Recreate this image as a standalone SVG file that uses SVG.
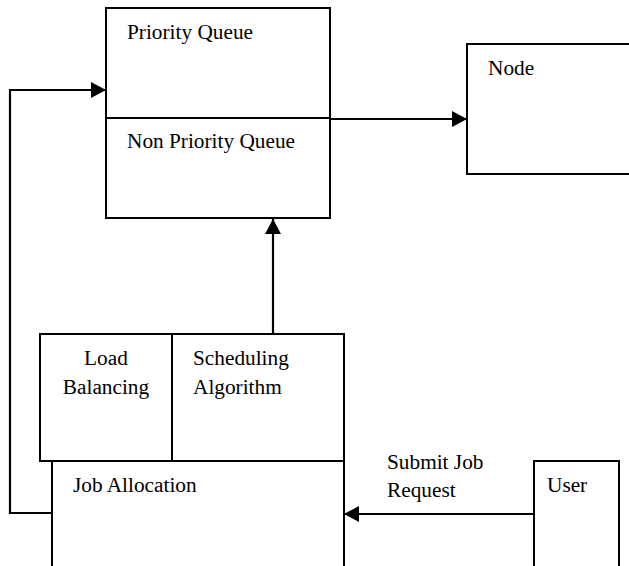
<svg xmlns="http://www.w3.org/2000/svg" width="629" height="566" viewBox="0 0 629 566">
<style>
.box{fill:#fff;stroke:#000;stroke-width:2}
.ln{fill:none;stroke:#000;stroke-width:2.2}
text{font-family:"Liberation Serif","Times New Roman",serif;font-size:21.3px;fill:#000}
</style>
<defs>
<marker id="ah" viewBox="0 0 15 16" refX="15" refY="8" markerWidth="15" markerHeight="16" markerUnits="userSpaceOnUse" orient="auto">
<path d="M0,0 L15,8 L0,16 Z" fill="#000"/>
</marker>
</defs>
<g id="queue">
<rect class="box" x="106" y="8" width="224" height="210"/>
<line x1="106" y1="118" x2="330" y2="118" stroke="#000" stroke-width="2"/>
<text x="127" y="39">Priority Queue</text>
<text x="127" y="148">Non Priority Queue</text>
</g>
<g id="node">
<rect class="box" x="467" y="44" width="170" height="130"/>
<text x="488" y="75">Node</text>
</g>
<g id="balancing">
<rect class="box" x="40" y="334" width="304" height="127"/>
<line x1="172" y1="334" x2="172" y2="461" stroke="#000" stroke-width="2"/>
<text x="106" y="365" text-anchor="middle">Load</text>
<text x="106" y="394" text-anchor="middle">Balancing</text>
<text x="193" y="365">Scheduling</text>
<text x="193" y="394">Algorithm</text>
</g>
<g id="allocation">
<rect class="box" x="52" y="461" width="292" height="120"/>
<text x="73" y="492">Job Allocation</text>
</g>
<g id="user">
<rect class="box" x="534" y="461" width="85" height="120"/>
<text x="547" y="492">User</text>
</g>
<g id="connectors">
<polyline class="ln" points="52,513 10,513 10,90 106,90" marker-end="url(#ah)"/>
<line class="ln" x1="330" y1="119" x2="467" y2="119" marker-end="url(#ah)"/>
<line class="ln" x1="273" y1="334" x2="273" y2="219" marker-end="url(#ah)"/>
<line class="ln" x1="534" y1="514" x2="344" y2="514" marker-end="url(#ah)"/>
<text x="387" y="469">Submit Job</text>
<text x="387" y="497">Request</text>
</g>
</svg>
